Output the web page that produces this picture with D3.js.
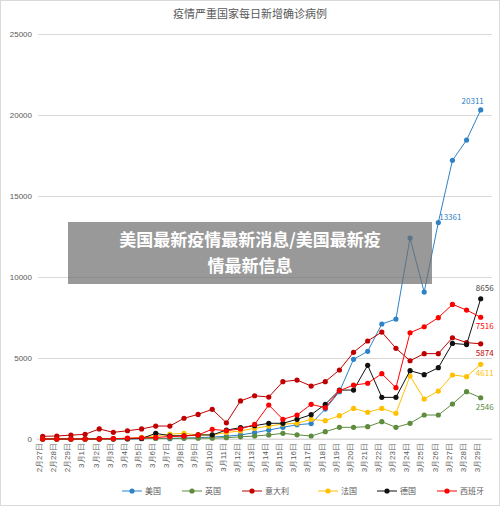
<!DOCTYPE html>
<html><head><meta charset="utf-8">
<script src="https://cdn.jsdelivr.net/npm/d3@7"></script>
<style>body{margin:0;background:#fff}svg{font-family:"Noto Sans CJK SC","Noto Sans",sans-serif}</style>
</head><body><svg id="c" width="500" height="506"></svg>
<script>
const dates=["2月27日","2月28日","2月29日","3月1日","3月2日","3月3日","3月4日","3月5日","3月6日","3月7日","3月8日","3月9日","3月10日","3月11日","3月12日","3月13日","3月14日","3月15日","3月16日","3月17日","3月18日","3月19日","3月20日","3月21日","3月22日","3月23日","3月24日","3月25日","3月26日","3月27日","3月28日","3月29日"];
const us=[1,0,0,3,3,5,12,15,45,20,60,80,120,170,250,390,550,720,880,950,1850,2920,4920,5410,7100,7400,12400,9070,13361,17200,18450,20311];
const uk=[2,3,3,3,12,4,11,34,30,46,46,50,52,83,134,185,250,350,260,185,450,720,720,760,1070,720,970,1480,1480,2160,2920,2546];
const italy=[165,185,240,290,620,410,510,620,800,800,1280,1520,1830,1000,2350,2670,2590,3540,3640,3270,3540,4260,5350,6050,6600,5600,4830,5270,5270,6250,5950,5874];
const france=[0,0,0,0,10,20,30,100,200,300,350,250,250,400,500,660,800,920,970,1215,1130,1440,1890,1650,1890,1590,3890,2470,2960,3950,3850,4611];
const germany=[0,0,0,0,5,10,20,30,350,200,200,250,250,550,700,820,970,970,1215,1500,2140,3020,3020,4550,2570,2570,4220,3970,4400,5900,5830,8656];
const spain=[0,0,0,0,10,20,50,70,100,150,180,250,600,510,620,900,2100,1215,1480,2140,1930,2980,3330,3440,4030,3170,6560,6930,7490,8310,7960,7516];
const names=["美国","英国","意大利","法国","德国","西班牙"];
const yTicks=[0,5000,10000,15000,20000,25000];
const series=[
 {n:names[0],v:us,c:"#2e82c6",lab:"above"},
 {n:names[1],v:uk,c:"#5e8c3d",lab:"below"},
 {n:names[2],v:italy,c:"#c00000",lab:"below"},
 {n:names[3],v:france,c:"#ffc000",lab:"below"},
 {n:names[4],v:germany,c:"#111111",lab:"above"},
 {n:names[5],v:spain,c:"#ff0000",lab:"below"}];
const svg=d3.select("#c");
svg.append("rect").attr("x",0.5).attr("y",0.5).attr("width",499).attr("height",505).attr("fill","#fff").attr("stroke","#d9d9d9");
const x=d3.scalePoint().domain(dates).range([42.7,480.7]);
const y=d3.scaleLinear().domain([0,25000]).range([439,34]);
svg.append("text").attr("x",250).attr("y",18).attr("text-anchor","middle").attr("font-size",11).attr("fill","#595959").text("疫情严重国家每日新增确诊病例");
const ya=svg.append("g").attr("transform","translate(38,0)").call(d3.axisLeft(y).tickValues(yTicks).tickSize(-454).tickFormat(d3.format("d")));
ya.select(".domain").remove();
ya.selectAll("line").attr("stroke","#d9d9d9");
ya.selectAll("text").attr("fill","#595959").attr("font-size",8).attr("x",-6);
const xa=svg.append("g").attr("transform","translate(0,439)").call(d3.axisBottom(x).tickSize(0));
xa.select(".domain").attr("stroke","#d9d9d9").attr("d","M36,0H492");
xa.selectAll("text").attr("transform","rotate(-90)").attr("text-anchor","end").attr("x",-4).attr("y",-4).attr("dy","0.35em").attr("fill","#595959").attr("font-size",8);
const line=d3.line().x((d,i)=>x(dates[i])).y(d=>y(d));
series.forEach(s=>{
 svg.append("path").attr("d",line(s.v)).attr("fill","none").attr("stroke",s.c).attr("stroke-width",1);
 svg.append("g").selectAll("circle").data(s.v).join("circle").attr("cx",(d,i)=>x(dates[i])).attr("cy",d=>y(d)).attr("r",2.6).attr("fill",s.c);
});
const labs=[[us,31,"#2e82c6",-8,-6,"20311"],[us,28,"#2e82c6",12,-3,"13361"],[germany,31,"#404040",4,-8,"8656"],[spain,31,"#ff0000",4,12,"7516"],[italy,31,"#c00000",4,12,"5874"],[france,31,"#ffc000",4,12,"4611"],[uk,31,"#5e8c3d",4,12,"2546"]];
labs.forEach(l=>svg.append("text").attr("x",x(dates[l[1]])+l[3]).attr("y",y(l[0][l[1]])+l[4]).attr("text-anchor","middle").attr("font-size",8).attr("fill",l[2]).text(l[5]));
// legend
const lg=svg.append("g").attr("transform","translate(122,491)");
const offs=[0,60,120,196,255,315];
series.forEach((s,i)=>{
 const g=lg.append("g").attr("transform",`translate(${offs[i]},0)`);
 g.append("line").attr("x1",0).attr("x2",20).attr("stroke",s.c);
 g.append("circle").attr("cx",10).attr("r",2.6).attr("fill",s.c);
 g.append("text").attr("x",23).attr("dy","0.35em").attr("font-size",8).attr("fill","#595959").text(s.n);
});
// overlay
svg.append("rect").attr("x",68).attr("y",222).attr("width",364).attr("height",62).attr("fill","rgba(110,110,110,0.7)");
svg.append("text").attr("x",250).attr("y",246).attr("text-anchor","middle").attr("font-size",17).attr("font-weight","bold").attr("fill","#fff").text("美国最新疫情最新消息/美国最新疫");
svg.append("text").attr("x",250).attr("y",272).attr("text-anchor","middle").attr("font-size",17).attr("font-weight","bold").attr("fill","#fff").text("情最新信息");
</script></body></html>
